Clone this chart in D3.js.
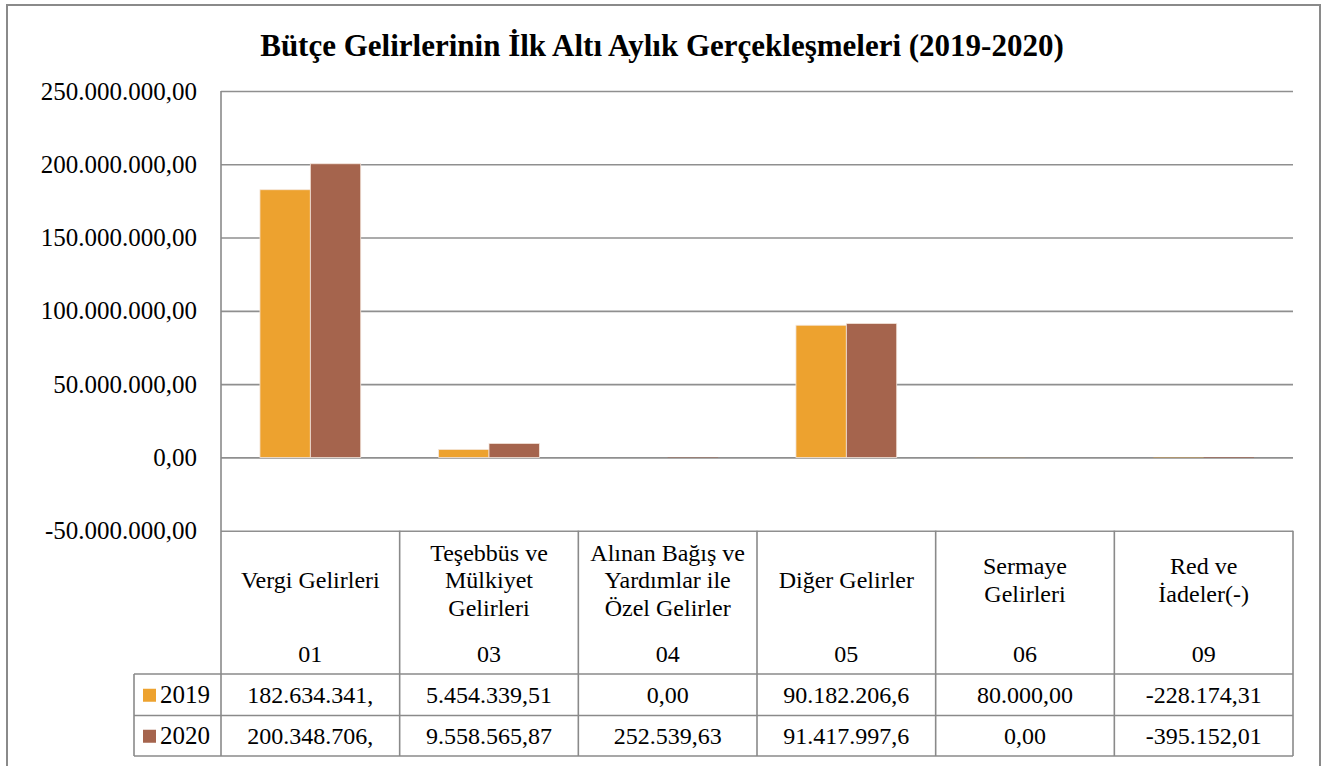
<!DOCTYPE html>
<html>
<head>
<meta charset="utf-8">
<script src="https://d3js.org/d3.v7.min.js"></script>
<style>
  body { margin:0; background:#fff; }
  text { font-family: "Liberation Serif", serif; fill:#000; }
</style>
</head>
<body>
<script>
// data
var codes = ["01", "03", "04", "05", "06", "09"];
var categories = [
  ["Vergi Gelirleri"],
  ["Teşebbüs ve", "Mülkiyet", "Gelirleri"],
  ["Alınan Bağış ve", "Yardımlar ile", "Özel Gelirler"],
  ["Diğer Gelirler"],
  ["Sermaye", "Gelirleri"],
  ["Red ve", "İadeler(-)"]
];
var years = ["2019", "2020"];
var values2019 = [182634341, 5454339.51, 0, 90182206.6, 80000, -228174.31];
var values2020 = [200348706, 9558565.87, 252539.63, 91417997.6, 0, -395152.01];
// the table cells show the text as cut off in the original
var labels2019 = ["182.634.341,", "5.454.339,51", "0,00", "90.182.206,6", "80.000,00", "-228.174,31"];
var labels2020 = ["200.348.706,", "9.558.565,87", "252.539,63", "91.417.997,6", "0,00", "-395.152,01"];
var yTicks = [-50000000, 0, 50000000, 100000000, 150000000, 200000000, 250000000];
var colors = ["#EDA22F", "#A5644D"];

var W = 1323, H = 766;
var plotL = 221, plotR = 1293, plotT = 91, plotB = 530.7;
var tableRows = [674, 715.5, 756];
var legendLeft = 134;

var svg = d3.select("body").append("svg")
    .attr("width", W).attr("height", H);

// outer chart border
svg.append("rect")
   .attr("x", 7).attr("y", 5)
   .attr("width", 1313).attr("height", 790)
   .style("fill", "none").style("stroke", "#8a8a8a").style("stroke-width", 2);

svg.append("text")
   .attr("x", 662).attr("y", 56)
   .attr("text-anchor", "middle")
   .style("font-size", "31px").style("font-weight", "bold")
   .text("Bütçe Gelirlerinin İlk Altı Aylık Gerçekleşmeleri (2019-2020)");

var y = d3.scaleLinear().domain([-50000000, 250000000]).range([plotB, plotT]);
var x0 = d3.scaleBand().domain(codes).range([plotL, plotR])
    .paddingInner(0.436).paddingOuter(0.218);
var x1 = d3.scaleBand().domain(years).range([0, x0.bandwidth()]);
var xCols = d3.scaleBand().domain(codes).range([plotL, plotR]);

var tr = d3.formatLocale({decimal: ",", thousands: ".", grouping: [3], currency: ["", ""], minus: "-"});
var fmt = tr.format(",.2f");

// gridlines
svg.append("g")
   .attr("transform", "translate(" + plotL + ",0)")
   .call(d3.axisLeft(y).tickValues(yTicks).tickSize(-(plotR - plotL)).tickFormat(""))
   .call(function(g) {
     g.select(".domain").remove();
     g.selectAll("line").style("stroke", "#8f8f8f").style("stroke-width", 1.6);
   });

// y labels
svg.append("g")
   .attr("transform", "translate(" + plotL + ",0)")
   .call(d3.axisLeft(y).tickValues(yTicks).tickSize(0).tickPadding(24).tickFormat(fmt))
   .call(function(g) {
     g.select(".domain").remove();
     g.selectAll("text").style("font-size", "25px").style("font-family", "Liberation Serif");
   });

// bars
var rows = codes.map(function(c, i) { return {code: c, v: [values2019[i], values2020[i]]}; });
var grp = svg.append("g").selectAll("g").data(rows).join("g")
   .attr("transform", function(d) { return "translate(" + x0(d.code) + ",0)"; });
grp.selectAll("rect").data(function(d) { return d.v.map(function(v, k) { return {yr: years[k], v: v, k: k}; }); })
   .join("rect")
   .attr("x", function(d) { return x1(d.yr); })
   .attr("width", x1.bandwidth())
   .attr("y", function(d) { return y(Math.max(0, d.v)); })
   .attr("height", function(d) { return Math.abs(y(d.v) - y(0)); })
   .style("fill", function(d) { return colors[d.k]; })
   .style("stroke", function(d) { return Math.abs(y(d.v) - y(0)) > 2 ? "#f4e6dc" : "none"; })
   .style("stroke-width", 0.8);

// table lines
var line = function(ax, ay, bx, by) {
  svg.append("line").attr("x1", ax).attr("y1", ay).attr("x2", bx).attr("y2", by)
     .style("stroke", "#8a8a8a").style("stroke-width", 1.6);
};
line(plotL, plotT, plotL, tableRows[2]);
codes.forEach(function(c) { line(xCols(c) + xCols.bandwidth(), plotB, xCols(c) + xCols.bandwidth(), tableRows[2]); });
tableRows.forEach(function(r) { line(legendLeft, r, plotR, r); });
line(legendLeft, tableRows[0], legendLeft, tableRows[2]);

// header texts
codes.forEach(function(c, i) {
  var cx = xCols(c) + xCols.bandwidth() / 2;
  var lines = categories[i];
  var lh = 27.5, mid = 581;
  var t = svg.append("text").attr("text-anchor", "middle").style("font-size", "24px");
  lines.forEach(function(s, j) {
    t.append("tspan").attr("x", cx)
     .attr("y", mid + (j - (lines.length - 1) / 2) * lh + 7)
     .text(s);
  });
  svg.append("text").attr("x", cx).attr("y", 662).attr("text-anchor", "middle")
     .style("font-size", "24px").text(c);
  svg.append("text").attr("x", cx).attr("y", 703).attr("text-anchor", "middle")
     .style("font-size", "24px").text(labels2019[i]);
  svg.append("text").attr("x", cx).attr("y", 744).attr("text-anchor", "middle")
     .style("font-size", "24px").text(labels2020[i]);
});

// legend keys in the table
years.forEach(function(yr, k) {
  var cy = (tableRows[k] + tableRows[k + 1]) / 2;
  svg.append("rect").attr("x", 143).attr("y", cy - 6).attr("width", 13).attr("height", 13)
     .style("fill", colors[k]);
  svg.append("text").attr("x", 160).attr("y", cy + 8).style("font-size", "25px").text(yr);
});
</script>
</body>
</html>
